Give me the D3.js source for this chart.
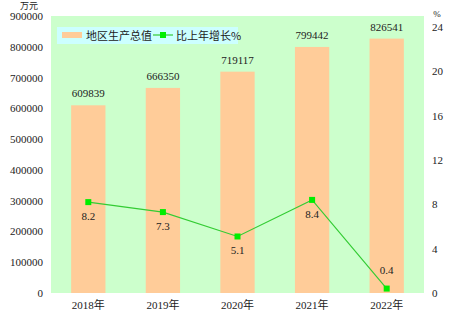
<!DOCTYPE html>
<html>
<head>
<meta charset="utf-8">
<script src="https://cdn.jsdelivr.net/npm/d3@7/dist/d3.min.js"></script>
<style>
  html, body { margin: 0; padding: 0; background: #fff; }
  svg { display: block; }
  text { font-family: "Liberation Serif", "Noto Sans CJK SC", serif; fill: #222; }
  .cjk { font-family: "Noto Sans CJK SC", sans-serif; }
</style>
</head>
<body>
<svg id="chart" width="454" height="328"></svg>
<script>
// Regional GDP (万元) and year-on-year growth (%)
const years = ["2018年", "2019年", "2020年", "2021年", "2022年"];
const gdp = [609839, 666350, 719117, 799442, 826541];
const growth = [8.2, 7.3, 5.1, 8.4, 0.4];
const leftTicks = [0, 100000, 200000, 300000, 400000, 500000, 600000, 700000, 800000, 900000];
const rightTicks = [0, 4, 8, 12, 16, 20, 24];
// growth labels: true = above the marker
const growthLabelAbove = [false, false, false, false, true];

const svg = d3.select("#chart");
const left = 51, right = 424, bottom = 293, topL = 16, topR = 27;

const x = d3.scaleBand().domain(years).range([left, right]).paddingInner(0.54).paddingOuter(0.27);
const yL = d3.scaleLinear().domain([0, 900000]).range([bottom, topL]);
const yR = d3.scaleLinear().domain([0, 24]).range([bottom, topR]);

// plot background
svg.append("rect").attr("x", left).attr("y", topL)
  .attr("width", right - left).attr("height", bottom - topL).attr("fill", "#ccffcc");

// bars
svg.append("g").selectAll("rect").data(years).join("rect")
  .attr("x", d => x(d)).attr("width", x.bandwidth())
  .attr("y", (d, i) => yL(gdp[i])).attr("height", (d, i) => bottom - yL(gdp[i]))
  .attr("fill", "#ffcc99");

// bar value labels
svg.append("g").selectAll("text").data(years).join("text")
  .attr("x", d => x(d) + x.bandwidth() / 2)
  .attr("y", (d, i) => yL(gdp[i]) - 8)
  .attr("text-anchor", "middle").attr("font-size", 11)
  .text((d, i) => gdp[i]);

// growth line
const cx = d => x(d) + x.bandwidth() / 2;
const line = d3.line().x((d, i) => cx(years[i])).y(d => yR(d));
svg.append("path").datum(growth).attr("d", line)
  .attr("fill", "none").attr("stroke", "#33cc33").attr("stroke-width", 1.2);
svg.append("g").selectAll("rect").data(growth).join("rect")
  .attr("x", (d, i) => cx(years[i]) - 3).attr("y", d => yR(d) - 3)
  .attr("width", 6).attr("height", 6).attr("fill", "#00ee00");
svg.append("g").selectAll("text").data(growth).join("text")
  .attr("x", (d, i) => cx(years[i]))
  .attr("y", (d, i) => growthLabelAbove[i] ? yR(d) - 15 : yR(d) + 18)
  .attr("text-anchor", "middle").attr("font-size", 11)
  .text(d => d3.format(".1f")(d));

// left axis
const axL = svg.append("g").attr("transform", `translate(${left - 6},0)`)
  .call(d3.axisLeft(yL).tickValues(leftTicks).tickSize(0).tickPadding(2).tickFormat(d3.format("d")));
axL.select(".domain").remove();
axL.selectAll("text").attr("font-size", 11).attr("font-family", "Liberation Serif, serif").attr("fill", "#222");

// right axis
const axR = svg.append("g").attr("transform", `translate(${right + 6},0)`)
  .call(d3.axisRight(yR).tickValues(rightTicks).tickSize(0).tickPadding(2).tickFormat(d3.format("d")));
axR.select(".domain").remove();
axR.selectAll("text").attr("font-size", 11).attr("font-family", "Liberation Serif, serif").attr("fill", "#222");

// x axis
const axX = svg.append("g").attr("transform", `translate(0,${bottom + 4})`)
  .call(d3.axisBottom(x).tickSize(0).tickPadding(4));
axX.select(".domain").remove();
axX.selectAll("text").attr("font-size", 11).attr("font-family", "Liberation Serif, Noto Sans CJK SC, serif").attr("fill", "#222");

// unit labels
svg.append("text").attr("class", "cjk").attr("x", 29).attr("y", 8.5).attr("text-anchor", "middle")
  .attr("font-size", 9).text("万元");
svg.append("text").attr("x", 437).attr("y", 17).attr("text-anchor", "middle")
  .attr("font-size", 9).text("%");

// legend
const lg = svg.append("g");
lg.append("rect").attr("x", 57).attr("y", 27).attr("width", 181).attr("height", 17).attr("fill", "#ccffff");
lg.append("rect").attr("x", 62).attr("y", 32).attr("width", 20).attr("height", 6).attr("fill", "#ffcc99");
lg.append("text").attr("class", "cjk").attr("x", 86).attr("y", 40).attr("font-size", 11).text("地区生产总值");
lg.append("line").attr("x1", 153).attr("x2", 173).attr("y1", 35).attr("y2", 35)
  .attr("stroke", "#33cc33").attr("stroke-width", 1.2);
lg.append("rect").attr("x", 160).attr("y", 32).attr("width", 6).attr("height", 6).attr("fill", "#00ee00");
lg.append("text").attr("class", "cjk").attr("x", 176).attr("y", 40).attr("font-size", 11).text("比上年增长%");
</script>
</body>
</html>
